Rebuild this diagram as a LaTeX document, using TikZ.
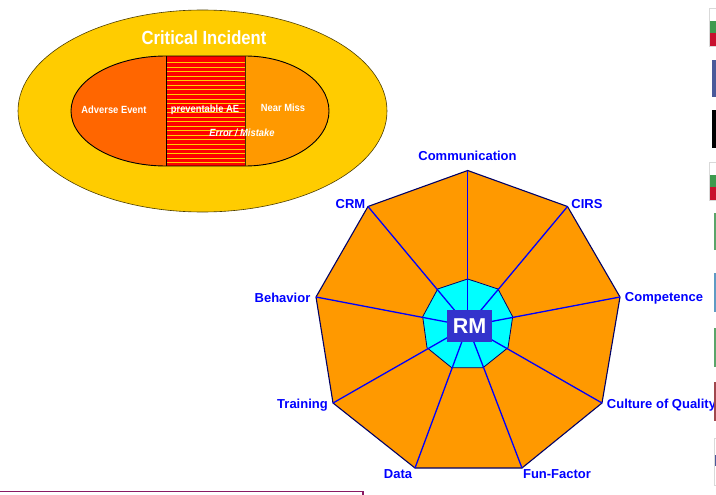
\documentclass[tikz,border=0pt]{standalone}
\usepackage{fontspec}
\setmainfont{Liberation Sans}
\definecolor{goldc}{HTML}{FFCC00}
\definecolor{orangeA}{HTML}{FF6600}
\definecolor{orangeB}{HTML}{FF9900}
\definecolor{rmblue}{HTML}{3333CC}
\definecolor{purp}{HTML}{8A1A63}
\definecolor{cyanc}{HTML}{00FFFF}
\definecolor{bluec}{HTML}{0000FF}
\definecolor{redc}{HTML}{FF0000}
\definecolor{navyc}{HTML}{000066}
\definecolor{flaggreen}{HTML}{3E9A4E}
\definecolor{flagred}{HTML}{C8102E}
\definecolor{stripblue}{HTML}{4A5A9A}
\definecolor{stripsteel}{HTML}{5F9BC4}
\definecolor{stripgreen}{HTML}{5BA56A}
\definecolor{stripmaroon}{HTML}{A0484E}
\tikzset{
  x=1pt,y=-1pt,
  wlabel/.style={text=white,font=\bfseries\fontsize{10.4}{12}\selectfont,inner sep=0pt,xscale=0.9},
  blabel/.style={text=bluec,font=\bfseries\fontsize{13}{15}\selectfont,inner sep=0pt},
  spoke/.style={draw=bluec,line width=1.3pt},
  strip/.style={draw=black!15,line width=0.6pt},
}
\begin{document}
\begin{tikzpicture}
\useasboundingbox (0,0) rectangle (716,495);
% critical incident
\draw[fill=goldc,draw=black!70!goldc,line width=0.6pt] (202.5,111) ellipse [x radius=184.5,y radius=101];
\fill[orangeA] (166,56) .. controls (113.5,56) and (71,80.6) .. (71,111) .. controls (71,141.4) and (113.5,166) .. (166,166) -- cycle;
\fill[orangeB] (245,56) .. controls (291.4,56) and (329,80.6) .. (329,111) .. controls (329,141.4) and (291.4,166) .. (245,166) -- cycle;
\fill[redc] (166,56) rectangle (245,166);
\foreach \i in {0,...,23} \draw[goldc,line width=0.7pt] (166,{62.5+\i*4.55}) -- (245,{62.5+\i*4.55});
\draw[line width=0.9pt] (166,56) .. controls (113.5,56) and (71,80.6) .. (71,111) .. controls (71,141.4) and (113.5,166) .. (166,166) -- (245,166) .. controls (291.4,166) and (329,141.4) .. (329,111) .. controls (329,80.6) and (291.4,56) .. (245,56) -- cycle;
\draw[line width=0.9pt] (166,56) -- (166,166);
\draw[line width=0.9pt,black!70!orangeB] (245,56) -- (245,166);
\node[text=white,font=\bfseries\fontsize{19}{22}\selectfont,inner sep=0pt,xscale=0.875] (ci) at (204,38) {Critical Incident};
\node[wlabel] (ae) at (114,109.5) {Adverse Event};
\node[wlabel] (pae) at (205,110) {preventable AE};
\node[wlabel] (nm) at (283,108) {Near Miss};
\node[wlabel,font=\bfseries\itshape\fontsize{10.4}{12}\selectfont] (err) at (242,132.5) {Error / Mistake};
% nonagon
\coordinate (o1) at (467.7,170.5);\coordinate (o2) at (567.5,206.5);\coordinate (o3) at (620,297);
\coordinate (o4) at (602,403);\coordinate (o5) at (522,468);\coordinate (o6) at (415,468);
\coordinate (o7) at (333,403);\coordinate (o8) at (316,297);\coordinate (o9) at (368,206.5);
\coordinate (i1) at (467.7,279);\coordinate (i2) at (498,289);\coordinate (i3) at (512.7,316.7);
\coordinate (i4) at (508,347.7);\coordinate (i5) at (483,367.7);\coordinate (i6) at (451.7,367.7);
\coordinate (i7) at (427,347.7);\coordinate (i8) at (422.7,316.7);\coordinate (i9) at (437.7,289);
\coordinate (c) at (467.7,326);
\draw[fill=orangeB,draw=navyc,line width=1.1pt] (o1)--(o2)--(o3)--(o4)--(o5)--(o6)--(o7)--(o8)--(o9)--cycle;
\draw[fill=cyanc,draw=navyc,line width=0.8pt] (i1)--(i2)--(i3)--(i4)--(i5)--(i6)--(i7)--(i8)--(i9)--cycle;
\foreach \n in {1,...,9} \draw[spoke] (o\n) -- (c);
\node[fill=rmblue,text=white,font=\bfseries\fontsize{21.5}{25}\selectfont,minimum width=45pt,minimum height=32pt,inner sep=0pt] (rm) at (469.5,326) {RM};
\node[blabel] (l1) at (467.5,156) {Communication};
\node[blabel] (l2) at (587,204.5) {CIRS};
\node[blabel] (l3) at (664,298) {Competence};
\node[blabel] (l4) at (661.5,405) {Culture of Quality};
\node[blabel] (l5) at (557,474.5) {Fun-Factor};
\node[blabel] (l6) at (398,474.5) {Data};
\node[blabel] (l7) at (302.5,405) {Training};
\node[blabel] (l8) at (282.5,298) {Behavior};
\node[blabel] (l9) at (350.5,204.5) {CRM};
% cut-off items at the right edge
\draw[strip,fill=white] (709.5,8) rectangle (718,46);
\fill[flaggreen] (710,21) rectangle (716,33);
\fill[flagred] (710,33) rectangle (716,46);
\fill[stripblue] (712,60) rectangle (716,97);
\fill[black] (712,110) rectangle (716,148);
\draw[strip,fill=white] (709.5,162) rectangle (718,200);
\fill[flaggreen] (710,175) rectangle (716,187);
\fill[flagred] (710,187) rectangle (716,200);
\fill[stripgreen] (713.5,213) rectangle (716,250);
\fill[stripsteel] (714,273) rectangle (716,312);
\fill[stripgreen] (714,328) rectangle (716,367);
\fill[stripmaroon] (714,382) rectangle (716,421);
\draw[strip,fill=white] (714,438) rectangle (718,485);
\fill[stripblue] (714.5,455) rectangle (716,466);
% bottom frame
\draw[purp,line width=1.4pt] (-2,491.5) -- (363,491.5) -- (363,497);
\end{tikzpicture}
\end{document}
